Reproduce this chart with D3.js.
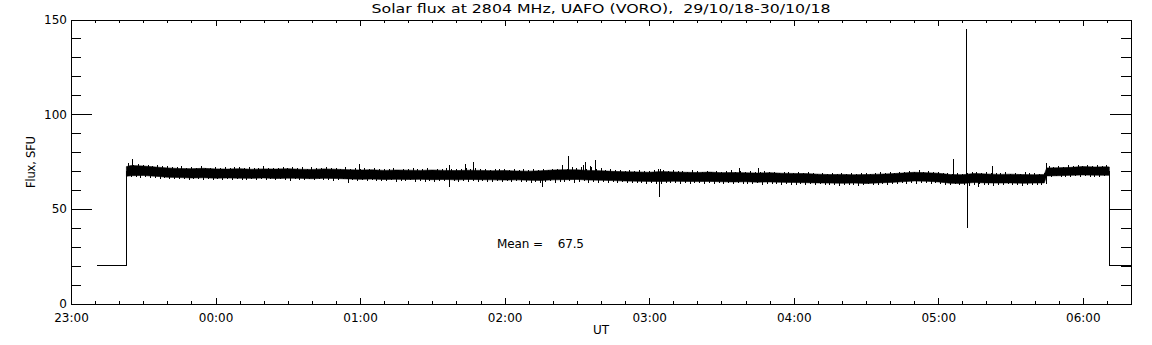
<!DOCTYPE html>
<html><head><meta charset="utf-8">
<script src="https://cdn.jsdelivr.net/npm/d3@7"></script>
<style>
body{margin:0;background:#fff;}
svg{display:block;}
text{font-family:"DejaVu Sans",sans-serif;fill:#000;}
</style></head><body>
<svg id="c" width="1152" height="345"></svg>
<script>
const title = "Solar flux at 2804 MHz, UAFO (VORO),  29/10/18-30/10/18";
const yLabel = "Flux, SFU";
const xLabel = "UT";
const meanLabel = "Mean =    67.5";
const xTickLabels = ["23:00","00:00","01:00","02:00","03:00","04:00","05:00","06:00"];
const yTickLabels = [0, 50, 100, 150];

// solid core of the noisy trace: minutes after 23:00 UT, upper and lower edge (SFU)
const bandMinutes = [23,25,30,35,40,45,50,55,60,65,70,75,80,85,90,95,100,105,110,115,
  120,125,130,135,140,145,150,155,160,165,170,175,180,185,190,195,200,205,210,215,220,225,
  230,235,240,245,250,255,260,265,270,275,280,285,290,295,300,305,310,315,320,325,330,335,
  340,345,350,355,360,365,370,375,380,385,390,395,400,404,405,410,415,420,425,430,431];
const bandUpper = [72.3,72.9,72.6,72.1,71.6,71.3,71.2,71.4,71.1,71.0,71.2,70.9,71.1,71.0,71.2,70.9,70.8,71.1,70.9,70.7,
  70.5,70.6,70.3,70.5,70.4,70.3,70.5,70.3,70.2,70.4,70.3,70.1,70.2,70.0,69.9,70.1,70.5,70.7,70.6,70.3,70.1,69.8,
  69.6,69.5,69.3,69.7,69.5,69.3,69.2,69.4,69.1,69.2,69.0,68.9,69.1,68.8,68.7,68.6,68.3,68.1,68.2,68.0,68.1,68.3,
  68.5,68.9,69.3,69.1,68.8,68.1,68.0,68.7,68.4,68.2,68.3,68.1,68.0,68.2,71.6,71.7,71.9,72.3,72.1,72.2,72.1];
const bandLower = [67.2,67.5,67.6,67.2,66.7,66.5,66.3,66.4,66.2,66.3,66.2,66.1,66.3,66.0,66.2,66.1,65.9,66.1,66.0,65.8,
  65.6,65.7,65.5,65.6,65.5,65.6,65.4,65.5,65.3,65.5,65.4,65.3,65.2,65.3,65.1,65.0,65.3,65.4,65.5,65.2,65.1,64.9,
  64.7,64.6,64.5,64.4,64.6,64.5,64.4,64.5,64.3,64.2,64.3,64.1,64.2,64.0,63.9,63.8,63.7,63.6,63.5,63.6,63.4,63.7,
  63.9,64.3,64.7,64.6,64.2,63.5,63.4,63.9,63.7,63.6,63.7,63.5,63.6,63.7,67.4,67.5,67.7,67.9,67.8,67.7,67.7];

// ragged fringe of the noise, every 2 minutes from 23:24 to 06:10 (peak above / dip below)
const fringeStart = 24, fringeStep = 2;
const fringeHigh = [74.0,73.4,73.8,72.9,73.2,72.6,73.0,72.4,72.8,72.2,
  71.9,72.5,71.7,72.2,71.6,72.4,71.8,71.5,72.1,71.6,
  72.3,71.5,71.9,72.0,71.4,72.2,71.7,71.5,72.4,71.6,
  71.8,71.4,72.1,71.6,72.3,71.5,71.9,71.3,72.0,71.7,
  71.5,72.2,71.4,71.8,71.3,71.9,71.1,71.6,71.0,71.4,
  70.9,71.5,70.8,71.3,71.0,71.6,70.7,71.2,70.9,71.4,
  70.8,71.1,71.5,70.7,71.2,70.9,71.6,70.8,71.3,71.0,
  71.4,70.8,71.7,70.9,71.2,70.6,71.3,70.8,71.0,70.7,
  71.2,70.6,70.9,70.4,71.1,70.7,71.0,70.5,71.3,71.0,
  71.8,71.2,72.0,71.4,71.9,71.1,72.2,71.0,71.5,70.7,
  70.9,70.3,70.7,70.1,70.5,69.9,70.4,69.8,70.2,70.6,
  71.0,70.4,70.1,70.5,69.8,70.2,69.7,70.3,69.9,69.6,
  70.2,69.7,70.0,69.5,69.9,70.3,69.6,69.8,69.4,70.0,
  69.5,69.3,69.9,69.4,69.7,69.1,69.6,69.2,69.0,69.4,
  68.9,69.3,68.8,68.6,69.1,68.5,68.9,68.4,68.8,68.6,
  68.9,68.4,68.7,69.0,68.5,68.8,69.2,68.7,69.4,68.9,
  69.6,69.2,70.0,69.7,70.3,69.6,69.9,69.3,69.7,69.1,
  68.9,68.5,69.1,68.6,68.9,69.5,69.2,68.9,69.3,68.8,
  69.1,68.7,69.3,68.6,69.0,68.5,69.2,68.7,68.9,68.6,
  69.0,72.4,72.0,72.6,72.2,72.9,72.4,73.0,72.6,73.2,
  72.7,73.1,72.6,72.9];
const fringeLow = [66.6,67.0,66.4,66.8,66.1,66.5,65.9,66.3,65.7,66.0,
  65.6,65.9,65.4,65.8,65.5,65.1,65.7,65.4,65.9,65.3,
  65.6,65.2,65.8,65.4,65.0,65.6,65.3,65.7,65.1,65.5,
  65.2,65.7,65.4,64.9,65.6,65.3,65.0,65.5,65.2,65.6,
  65.0,65.4,64.9,65.3,65.5,64.8,65.2,64.7,65.1,64.6,
  65.0,64.5,64.9,64.6,65.1,64.4,64.8,64.5,65.0,64.3,
  64.7,64.4,64.9,64.2,64.6,64.8,64.3,64.7,64.1,64.5,
  64.3,64.7,64.2,64.6,64.0,64.4,64.7,64.1,64.5,64.2,
  64.6,64.0,64.4,63.9,64.3,63.8,64.2,64.5,63.9,64.3,
  64.0,64.5,63.8,64.2,64.6,63.9,64.3,63.7,64.1,63.8,
  64.2,63.6,64.0,63.4,63.8,63.5,63.9,63.3,63.6,62.9,
  63.2,63.7,63.4,63.8,63.3,63.6,63.2,63.7,63.4,63.1,
  63.5,63.2,63.6,63.0,63.4,63.1,63.5,62.9,63.3,63.0,
  63.4,62.8,63.2,62.9,63.3,62.7,63.1,62.8,62.6,63.0,
  62.7,63.1,62.5,62.9,62.4,62.8,62.6,62.3,62.7,62.4,
  62.8,62.3,62.6,62.9,62.4,62.7,63.0,62.6,63.2,62.9,
  63.4,63.0,63.6,63.2,63.8,63.4,63.1,63.5,63.0,62.7,
  62.5,62.9,62.4,62.8,62.2,62.7,62.9,62.5,62.8,62.3,
  62.7,62.4,62.9,62.5,62.8,62.3,62.7,62.4,62.8,62.5,
  62.9,66.9,67.2,66.7,67.0,66.6,67.1,66.8,67.2,66.7,
  67.0,66.6,67.1,66.9];

// calibration level before and after the observation
const leadMinutes = [10.9, 23.1, 23.1];
const leadValues  = [20, 20, 70];
const tailMinutes = [431, 431, 440];
const tailValues  = [70, 20, 20];

// isolated spikes: minute, peak value (drawn from the band level)
const spikeMinutes = [25.7, 36, 115, 119.6, 157, 157, 163.6, 167, 195.7, 204, 206.5, 212.6, 213.7, 215.5, 217.6,
  244.3, 244.9, 277.4, 285.3, 366.3, 371.7, 372.1, 376.6, 382.4, 404.8];
const spikeValues  = [76.2, 73.2, 63.5, 73.7, 73.2, 61.7, 73.5, 74.7, 61.3, 73.2, 77.9, 73.2, 74.9, 72.6, 75.8,
  56.5, 71.0, 71.7, 71.7, 76.2, 144.8, 39.7, 61.7, 72.6, 74.0];
const spikeBase = 68;

const t0 = Date.UTC(2018, 9, 29, 23, 0);
const toDate = m => new Date(t0 + m * 60000);

const svg = d3.select("#c");
const x = d3.scaleUtc().domain([toDate(0), toDate(440)]).range([71, 1131]);
const y = d3.scaleLinear().domain([0, 150]).range([303.5, 19.5]);

const hourTicks = xTickLabels.map((_, i) => toDate(i * 60));
const minorTicks = d3.range(0, 441, 10).map(toDate);
const yMinor = d3.range(0, 151, 10);

function style(g) {
  g.attr("font-family", "DejaVu Sans").attr("font-size", 12);
  g.selectAll("path, line").attr("stroke", "#000").attr("shape-rendering", "crispEdges");
  g.selectAll("text").attr("fill", "#000");
}

// data
const area = d3.area().x((d, i) => x(toDate(bandMinutes[i]))).y0((d, i) => y(bandLower[i])).y1((d, i) => y(bandUpper[i]));
svg.append("path").attr("d", area(bandMinutes)).attr("fill", "#000").attr("stroke", "#000").attr("stroke-width", 0.6);

const fringeMinutes = fringeHigh.map((_, i) => fringeStart + i * fringeStep);
const fr = svg.append("g").attr("stroke", "#000").attr("stroke-width", 1).attr("shape-rendering", "crispEdges");
fr.selectAll("line.h").data(fringeMinutes).join("line").attr("class", "h")
  .attr("x1", m => x(toDate(m))).attr("x2", m => x(toDate(m)))
  .attr("y1", y(spikeBase)).attr("y2", (m, i) => y(fringeHigh[i]));
fr.selectAll("line.l").data(fringeMinutes).join("line").attr("class", "l")
  .attr("x1", m => x(toDate(m + 1))).attr("x2", m => x(toDate(m + 1)))
  .attr("y1", y(spikeBase)).attr("y2", (m, i) => y(fringeLow[i]));

const line = d3.line().x(d => x(toDate(d[0]))).y(d => y(d[1]));
svg.append("path").attr("d", line(leadMinutes.map((m, i) => [m, leadValues[i]])))
  .attr("fill", "none").attr("stroke", "#000").attr("stroke-width", 1).attr("shape-rendering", "crispEdges");
svg.append("path").attr("d", line(tailMinutes.map((m, i) => [m, tailValues[i]])))
  .attr("fill", "none").attr("stroke", "#000").attr("stroke-width", 1).attr("shape-rendering", "crispEdges");

svg.append("g").selectAll("line").data(spikeMinutes).join("line")
  .attr("x1", m => x(toDate(m))).attr("x2", m => x(toDate(m)))
  .attr("y1", y(spikeBase)).attr("y2", (m, i) => y(spikeValues[i]))
  .attr("stroke", "#000").attr("stroke-width", 1).attr("shape-rendering", "crispEdges");

// axes
svg.append("g").attr("transform", `translate(0,${y(0)})`)
  .call(d3.axisBottom(x).tickValues(hourTicks).tickSize(-6).tickSizeOuter(0).tickPadding(10).tickFormat((d, i) => xTickLabels[i]))
  .call(style);
svg.append("g").attr("transform", `translate(0,${y(0)})`)
  .call(d3.axisBottom(x).tickValues(minorTicks).tickSize(-3).tickSizeOuter(0).tickFormat(""))
  .call(style);
svg.append("g").attr("transform", `translate(0,${y(150)})`)
  .call(d3.axisTop(x).tickValues(hourTicks).tickSize(-6).tickSizeOuter(0).tickFormat(""))
  .call(style);
svg.append("g").attr("transform", `translate(0,${y(150)})`)
  .call(d3.axisTop(x).tickValues(minorTicks).tickSize(-3).tickSizeOuter(0).tickFormat(""))
  .call(style);
svg.append("g").attr("transform", `translate(71,0)`)
  .call(d3.axisLeft(y).tickValues(yTickLabels).tickSize(-21).tickSizeOuter(0).tickPadding(4).tickFormat(d3.format("d")))
  .call(style);
svg.append("g").attr("transform", `translate(71,0)`)
  .call(d3.axisLeft(y).tickValues(yMinor).tickSize(-10).tickSizeOuter(0).tickFormat(""))
  .call(style);
svg.append("g").attr("transform", `translate(1131,0)`)
  .call(d3.axisRight(y).tickValues(yTickLabels).tickSize(-21).tickSizeOuter(0).tickFormat(""))
  .call(style);
svg.append("g").attr("transform", `translate(1131,0)`)
  .call(d3.axisRight(y).tickValues(yMinor).tickSize(-10).tickSizeOuter(0).tickFormat(""))
  .call(style);

// texts
svg.append("text").attr("x", 601).attr("y", 13).attr("text-anchor", "middle")
  .attr("font-size", 13).attr("textLength", 459).attr("lengthAdjust", "spacingAndGlyphs")
  .style("white-space", "pre").text(title);
svg.append("text").attr("transform", "translate(35,162) rotate(-90)").attr("text-anchor", "middle")
  .attr("font-size", 11.5).attr("textLength", 52).text(yLabel);
svg.append("text").attr("x", 601).attr("y", 334).attr("text-anchor", "middle").attr("font-size", 12).text(xLabel);
svg.append("text").attr("x", 497).attr("y", 248).attr("font-size", 12).attr("textLength", 87)
  .style("white-space", "pre").text(meanLabel);
</script>
</body></html>
